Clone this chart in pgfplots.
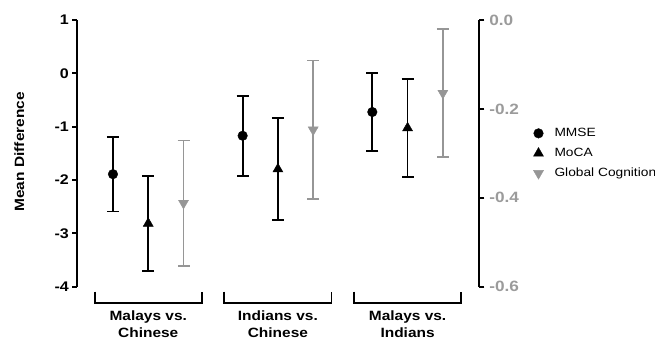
\documentclass[border=0pt]{standalone}
\usepackage{pgfplots}
\pgfplotsset{compat=1.18}
\usepackage{fontspec}
\setmainfont[FakeStretch=1.15]{Liberation Sans}
\definecolor{gc}{RGB}{150,150,150}
\definecolor{gt}{RGB}{155,155,155}

\pgfplotstableread{
x y ep em
0.728 -1.89 0.70 0.70
1.728 -1.17 0.75 0.75
2.728 -0.725 0.735 0.735
}\mmse
\pgfplotstableread{
x y ep em
1.000 -2.815 0.885 0.885
2.000 -1.795 0.955 0.955
3.000 -1.025 0.915 0.915
}\moca
\pgfplotstableread{
x y ep em
1.272 -0.412 0.141 0.141
2.272 -0.247 0.156 0.156
3.272 -0.1645 0.1445 0.1445
}\glob

\begin{document}
\begin{tikzpicture}
\useasboundingbox (-77.3bp,-54.3bp) rectangle (577.7bp,286.7bp);
\pgfplotsset{
  base/.style={
    at={(0,0)}, anchor=south west, scale only axis,
    width=402bp, height=266.7bp,
    xmin=0.453, xmax=3.553, axis x line=none, clip=false,
    tick align=outside, major tick length=5bp,
    every tick/.style={line width=1.8bp, black},
    axis line style={line width=1.8bp, black},
  },
  ebar/.style={
    only marks,
    error bars/.cd, y dir=both, y explicit,
    error bar style={line width=1.8bp, #1},
    error mark options={line width=1.8bp, mark size=6bp, #1, rotate=90},
    /pgfplots/.cd,
  },
}
\begin{axis}[base,
  ymin=-4, ymax=1, ytick={-4,-3,-2,-1,0,1},
  axis y line*=left,
  yticklabel style={font=\bfseries\fontsize{14}{16}\selectfont, /pgf/number format/assume math mode=true},
  ylabel={Mean Difference},
  every axis y label/.style={at={(axis description cs:-0.1445,0.506)}, rotate=90, anchor=center, font=\bfseries\fontsize{13.5}{15}\selectfont},
]
\addplot[black, mark=*, mark size=4.8bp, ebar=black]
  table[x=x, y=y, y error plus=ep, y error minus=em] {\mmse};
\addplot[black, mark=triangle*, mark size=5.8bp, ebar=black]
  table[x=x, y=y, y error plus=ep, y error minus=em] {\moca};

\draw[line width=1.8bp] ([yshift=-5bp]axis cs:0.587,-4) |- ([yshift=-16bp]axis cs:1.413,-4) -- ([yshift=-5bp]axis cs:1.413,-4);
\draw[line width=1.8bp] ([yshift=-5bp]axis cs:1.587,-4) |- ([yshift=-16bp]axis cs:2.413,-4) -- ([yshift=-5bp]axis cs:2.413,-4);
\draw[line width=1.8bp] ([yshift=-5bp]axis cs:2.587,-4) |- ([yshift=-16bp]axis cs:3.413,-4) -- ([yshift=-5bp]axis cs:3.413,-4);
\node[align=center, font=\bfseries\fontsize{13.5}{17.5}\selectfont] at ([yshift=-37.5bp]axis cs:1,-4) {Malays vs.\\Chinese};
\node[align=center, font=\bfseries\fontsize{13.5}{17.5}\selectfont] at ([yshift=-37.5bp]axis cs:2,-4) {Indians vs.\\Chinese};
\node[align=center, font=\bfseries\fontsize{13.5}{17.5}\selectfont] at ([yshift=-37.5bp]axis cs:3,-4) {Malays vs.\\Indians};
\end{axis}

\begin{axis}[base,
  ymin=-0.6, ymax=0, ytick={-0.6,-0.4,-0.2,0},
  axis y line*=right,
  yticklabel style={text=gt, font=\bfseries\fontsize{15}{17}\selectfont, xshift=1.5bp,
    /pgf/number format/.cd, fixed, fixed zerofill, precision=1, assume math mode=true},
  legend image code/.code={\draw[#1] plot coordinates {(0bp,0bp)};},
  legend style={at={(axis description cs:1.1343,0.5)}, anchor=west, draw=none, fill=none,
    inner sep=0pt, column sep=9bp, row sep=4.5bp,
    nodes={font=\fontsize{12}{14}\selectfont, inner sep=2bp, text height=9bp, text depth=2.5bp},
    cells={anchor=west}},
]
\addlegendimage{black, only marks, mark=*, mark size=4.8bp}
\addlegendentry{MMSE}
\addlegendimage{black, only marks, mark=triangle*, mark size=5.8bp}
\addlegendentry{MoCA}
\addlegendimage{gc, only marks, mark=triangle*, mark size=5.8bp, mark options={rotate=180}}
\addlegendentry{Global Cognition}
\addplot[gc, mark=triangle*, mark size=5.8bp, mark options={rotate=180}, forget plot, ebar=gc]
  table[x=x, y=y, y error plus=ep, y error minus=em] {\glob};
\end{axis}
\end{tikzpicture}
\end{document}
